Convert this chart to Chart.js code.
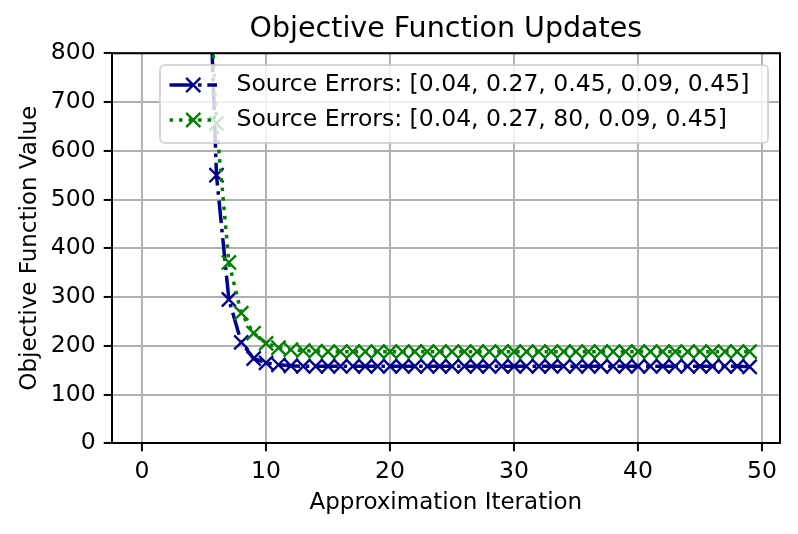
<!DOCTYPE html>
<html lang="en">
<head>
  <meta charset="UTF-8">
  <title>Objective Function Updates</title>
  <style>
    body { margin: 0; background: #ffffff; }
    #wrap { width: 798px; height: 534px; }
  </style>
</head>
<body>
  <div id="wrap"><canvas id="chart" width="798" height="534"></canvas></div>

  <script src="https://cdn.jsdelivr.net/npm/chart.js"></script>
  <script>
    // data
    const iterations = [0, 1, 2, 3, 4, 5, 6, 7, 8, 9, 10, 11, 12, 13, 14, 15, 16, 17, 18, 19,
      20, 21, 22, 23, 24, 25, 26, 27, 28, 29, 30, 31, 32, 33, 34, 35, 36, 37, 38, 39,
      40, 41, 42, 43, 44, 45, 46, 47, 48, 49];
    // first points are above the 800 limit, so they are clipped away
    const errorsA = [9800, 5600, 3300, 2200, 1600, 1270, 550, 295, 207, 174, 165, 161, 159, 158, 158, 158, 158, 158, 158, 158,
      158, 158, 158, 158, 158, 158, 158, 158, 158, 158, 158, 158, 158, 158, 158, 158, 158, 158, 158, 158,
      158, 158, 158, 158, 158, 158, 158, 158, 158, 157];
    const errorsB = [12000, 7000, 4000, 2500, 1700, 1200, 656, 371, 267, 226, 205, 196, 192, 190, 189, 188, 188, 188, 188, 188,
      188, 188, 188, 188, 188, 188, 188, 188, 188, 188, 188, 188, 188, 188, 188, 188, 188, 188, 188, 188,
      188, 188, 188, 188, 188, 188, 188, 188, 188, 188];
    const seriesLabels = [
      'Source Errors: [0.04, 0.27, 0.45, 0.09, 0.45]',
      'Source Errors: [0.04, 0.27, 80, 0.09, 0.45]'
    ];
    const xTicks = [0, 10, 20, 30, 40, 50];
    const chartTitle = 'Objective Function Updates';

    const FONT = 'DejaVu Sans';
    const BLUE = '#00008b';
    const GREEN = '#008000';
    const DASHDOT = [22.8, 5.7, 3.6, 5.7];
    const DOTTED = [3.6, 5.9];

    function toPoints(ys) {
      return iterations.map((x, i) => ({ x: x, y: ys[i] }));
    }

    // title over the plot area, top/right spines and the matplotlib style legend
    const framePlugin = {
      id: 'frame',
      afterDraw(chart) {
        const ctx = chart.ctx;
        const a = chart.chartArea;
        ctx.save();
        ctx.fillStyle = '#000';
        ctx.font = '28.5px "' + FONT + '"';
        ctx.textAlign = 'center';
        ctx.textBaseline = 'middle';
        ctx.fillText(chartTitle, (a.left + a.right) / 2, 30);

        ctx.strokeStyle = '#000';
        ctx.lineWidth = 2;
        ctx.beginPath();
        ctx.moveTo(a.left, a.top);
        ctx.lineTo(a.right, a.top);
        ctx.lineTo(a.right, a.bottom);
        ctx.stroke();

        // legend box
        const bx = 160, by = 65, bw = a.right - 12 - 160, bh = 78;
        ctx.beginPath();
        ctx.roundRect(bx, by, bw, bh, 5);
        ctx.fillStyle = 'rgba(255,255,255,0.8)';
        ctx.fill();
        ctx.strokeStyle = 'rgba(204,204,204,0.8)';
        ctx.lineWidth = 2;
        ctx.stroke();

        const rows = [
          { y: 85, color: BLUE, dash: DASHDOT, text: seriesLabels[0] },
          { y: 120, color: GREEN, dash: DOTTED, text: seriesLabels[1] }
        ];
        const hx0 = 169.5, hx1 = 217;
        rows.forEach(r => {
          ctx.strokeStyle = r.color;
          ctx.lineWidth = 3.5;
          ctx.lineCap = 'butt';
          ctx.setLineDash(r.dash);
          ctx.beginPath();
          ctx.moveTo(hx0, r.y);
          ctx.lineTo(hx1, r.y);
          ctx.stroke();
          ctx.setLineDash([]);
          const cx = (hx0 + hx1) / 2, d = 7.1;
          ctx.lineWidth = 2.4;
          ctx.beginPath();
          ctx.moveTo(cx - d, r.y - d); ctx.lineTo(cx + d, r.y + d);
          ctx.moveTo(cx - d, r.y + d); ctx.lineTo(cx + d, r.y - d);
          ctx.stroke();
          ctx.fillStyle = '#000';
          ctx.font = '23.5px "' + FONT + '"';
          ctx.textAlign = 'left';
          ctx.textBaseline = 'middle';
          ctx.fillText(r.text, 236.5, r.y);
        });
        ctx.restore();
      }
    };

    const ctx = document.getElementById('chart').getContext('2d');
    new Chart(ctx, {
      type: 'line',
      data: {
        datasets: [{
          label: seriesLabels[0],
          data: toPoints(errorsA),
          borderColor: BLUE,
          borderWidth: 3.5,
          borderDash: DASHDOT,
          pointStyle: 'crossRot',
          pointRadius: 10,
          pointHoverRadius: 10,
          pointBorderColor: BLUE,
          pointBorderWidth: 2.4,
          fill: false,
          clip: 0,
          order: 1
        }, {
          label: seriesLabels[1],
          data: toPoints(errorsB),
          borderColor: GREEN,
          borderWidth: 3.5,
          borderDash: DOTTED,
          pointStyle: 'crossRot',
          pointRadius: 10,
          pointHoverRadius: 10,
          pointBorderColor: GREEN,
          pointBorderWidth: 2.4,
          fill: false,
          clip: 0,
          order: 0
        }]
      },
      options: {
        responsive: false,
        animation: false,
        devicePixelRatio: 1,
        layout: { padding: { top: 53.3, right: 18, bottom: 0, left: 0 } },
        plugins: {
          legend: { display: false },
          tooltip: { enabled: false },
          title: { display: false }
        },
        scales: {
          x: {
            type: 'linear',
            min: -2.45,
            max: 51.45,
            afterBuildTicks(scale) {
              scale.ticks = xTicks.map(v => ({ value: v }));
            },
            afterFit(scale) { scale.height = 90.7; },
            grid: { color: '#b0b0b0', lineWidth: 1.9, tickLength: 8, tickColor: '#000', tickWidth: 2 },
            border: { color: '#000', width: 2 },
            ticks: { color: '#000', padding: 6, maxRotation: 0, font: { family: FONT, size: 23.5 } },
            title: {
              display: true,
              text: 'Approximation Iteration',
              color: '#000',
              font: { family: FONT, size: 23, weight: 'normal' },
              padding: { top: 0, bottom: 17 }
            }
          },
          y: {
            min: 0,
            max: 800,
            afterFit(scale) { scale.width = 111.7; },
            grid: { color: '#b0b0b0', lineWidth: 1.9, tickLength: 8, tickColor: '#000', tickWidth: 2 },
            border: { color: '#000', width: 2 },
            ticks: { stepSize: 100, color: '#000', padding: 8, font: { family: FONT, size: 23.5 } },
            title: {
              display: true,
              text: 'Objective Function Value',
              color: '#000',
              font: { family: FONT, size: 23, weight: 'normal' },
              padding: { top: 16, bottom: 0 }
            }
          }
        }
      },
      plugins: [framePlugin]
    });
  </script>
</body>
</html>
